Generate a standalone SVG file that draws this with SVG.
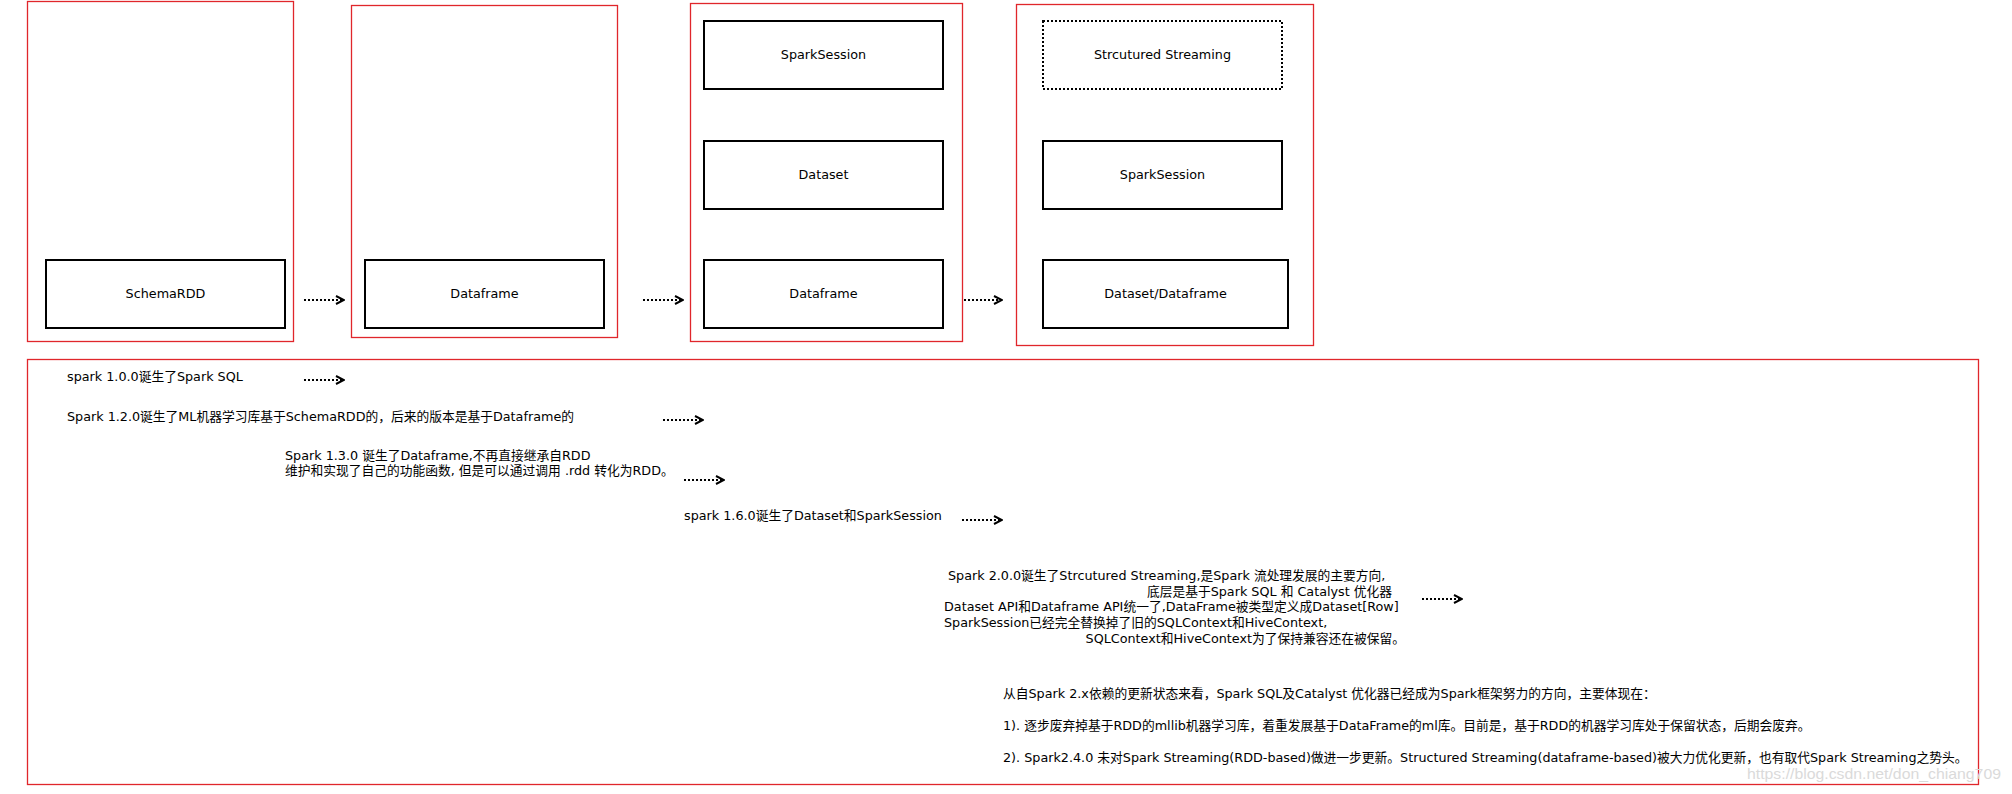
<svg xmlns="http://www.w3.org/2000/svg" width="2012" height="794" viewBox="0 0 2012 794">
<defs>
<style>
.container{fill:none;stroke:#e0262b;stroke-width:1.3}
.box{fill:#fff;stroke:#000;stroke-width:2}
.dbox{fill:#fff;stroke:#000;stroke-width:2;stroke-dasharray:2 2}
.lbl{font-family:"DejaVu Sans","Noto Sans CJK SC",sans-serif;font-size:12.75px;fill:#000}
.c{text-anchor:middle}
.e{text-anchor:end}
.conn{fill:none;stroke:#000;stroke-width:2;stroke-dasharray:2 2}
.wm{font-family:"Liberation Sans",Arial,sans-serif;font-size:15px;fill:#dadada}
</style>
<marker id="arr" viewBox="0 0 10 10" refX="9" refY="5" markerWidth="10" markerHeight="10" markerUnits="userSpaceOnUse" orient="auto">
<path d="M1,1 L9,5 L1,9" fill="none" stroke="#000" stroke-width="2"/>
</marker>
</defs>
<rect width="2012" height="794" fill="#fff"/>

<g id="container1">
<rect class="container" x="27.5" y="1.5" width="266" height="340"/>
</g>
<g id="container2">
<rect class="container" x="351.5" y="5.5" width="266" height="332"/>
</g>
<g id="container3">
<rect class="container" x="690.5" y="3.5" width="272" height="338"/>
</g>
<g id="container4">
<rect class="container" x="1016.5" y="4.5" width="297" height="341"/>
</g>
<g id="container5">
<rect class="container" x="27.5" y="359.5" width="1951" height="425"/>
</g>

<g id="schemardd">
<rect class="box" x="46" y="260" width="239" height="68"/>
<text class="lbl c" x="165.5" y="298">SchemaRDD</text>
</g>
<g id="dataframe1">
<rect class="box" x="365" y="260" width="239" height="68"/>
<text class="lbl c" x="484.5" y="298">Dataframe</text>
</g>
<g id="sparksession1">
<rect class="box" x="704" y="21" width="239" height="68"/>
<text class="lbl c" x="823.5" y="59">SparkSession</text>
</g>
<g id="dataset1">
<rect class="box" x="704" y="141" width="239" height="68"/>
<text class="lbl c" x="823.5" y="179">Dataset</text>
</g>
<g id="dataframe2">
<rect class="box" x="704" y="260" width="239" height="68"/>
<text class="lbl c" x="823.5" y="298">Dataframe</text>
</g>
<g id="structured">
<rect class="dbox" x="1043" y="21" width="239" height="68"/>
<text class="lbl c" x="1162.5" y="59">Strcutured Streaming</text>
</g>
<g id="sparksession2">
<rect class="box" x="1043" y="141" width="239" height="68"/>
<text class="lbl c" x="1162.5" y="179">SparkSession</text>
</g>
<g id="datasetdataframe">
<rect class="box" x="1043" y="260" width="245" height="68"/>
<text class="lbl c" x="1165.5" y="298">Dataset/Dataframe</text>
</g>

<g id="notes">
<text class="lbl" x="67" y="381">spark 1.0.0诞生了Spark SQL</text>
<text class="lbl" x="67" y="421">Spark 1.2.0诞生了ML机器学习库基于SchemaRDD的，后来的版本是基于Dataframe的</text>
<text class="lbl" x="285" y="460">Spark 1.3.0 诞生了Dataframe,不再直接继承自RDD</text>
<text class="lbl" x="285" y="475">维护和实现了自己的功能函数, 但是可以通过调用 .rdd 转化为RDD。</text>
<text class="lbl" x="684" y="520">spark 1.6.0诞生了Dataset和SparkSession</text>
<text class="lbl" x="948" y="580">Spark 2.0.0诞生了Strcutured Streaming,是Spark 流处理发展的主要方向,</text>
<text class="lbl e" x="1392" y="596">底层是基于Spark SQL 和 Catalyst 优化器</text>
<text class="lbl" x="944" y="611">Dataset API和Dataframe API统一了,DataFrame被类型定义成Dataset[Row]</text>
<text class="lbl" x="944" y="627">SparkSession已经完全替换掉了旧的SQLContext和HiveContext,</text>
<text class="lbl e" x="1405" y="643">SQLContext和HiveContext为了保持兼容还在被保留。</text>
<text class="lbl" x="1003" y="698">从自Spark 2.x依赖的更新状态来看，Spark SQL及Catalyst 优化器已经成为Spark框架努力的方向，主要体现在：</text>
<text class="lbl" x="1003" y="730">1). 逐步废弃掉基于RDD的mllib机器学习库，着重发展基于DataFrame的ml库。目前是，基于RDD的机器学习库处于保留状态，后期会废弃。</text>
<text class="lbl" x="1003" y="762">2). Spark2.4.0 未对Spark Streaming(RDD-based)做进一步更新。Structured Streaming(dataframe-based)被大力优化更新，也有取代Spark Streaming之势头。</text>
</g>

<g id="connectors">
<line class="conn" x1="304" y1="300" x2="344" y2="300" marker-end="url(#arr)"/>
<line class="conn" x1="643" y1="300" x2="683" y2="300" marker-end="url(#arr)"/>
<line class="conn" x1="964" y1="300" x2="1002" y2="300" marker-end="url(#arr)"/>
<line class="conn" x1="304" y1="380" x2="344" y2="380" marker-end="url(#arr)"/>
<line class="conn" x1="663" y1="420" x2="703" y2="420" marker-end="url(#arr)"/>
<line class="conn" x1="684" y1="480" x2="724" y2="480" marker-end="url(#arr)"/>
<line class="conn" x1="962" y1="520" x2="1002" y2="520" marker-end="url(#arr)"/>
<line class="conn" x1="1422" y1="599" x2="1462" y2="599" marker-end="url(#arr)"/>
</g>

<text class="wm" x="1747" y="779" textLength="254" lengthAdjust="spacingAndGlyphs">https://blog.csdn.net/don_chiang709</text>
</svg>
